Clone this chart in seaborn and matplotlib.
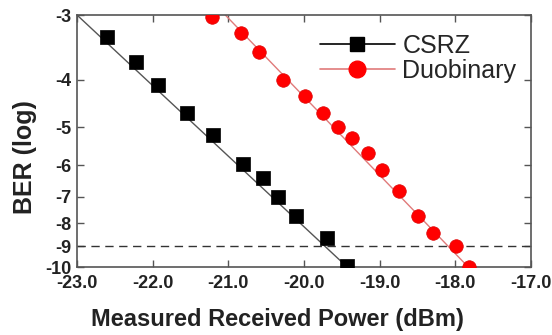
import math
import numpy as np
import pandas as pd
import matplotlib
matplotlib.use("Agg")
import matplotlib.pyplot as plt
from matplotlib.lines import Line2D
from matplotlib.ticker import FixedLocator, NullLocator
import seaborn as sns

# ---- data ----
csrz_power = [-22.60, -22.22, -21.93, -21.55, -21.20, -20.81, -20.54, -20.34, -20.11, -19.70, -19.43]
csrz_ber = [-3.30, -3.70, -4.10, -4.67, -5.18, -5.95, -6.37, -7.00, -7.70, -8.63, -9.95]

duo_power = [-21.22, -20.83, -20.59, -20.28, -19.99, -19.75, -19.55, -19.37, -19.15,
             -18.97, -18.74, -18.49, -18.30, -17.99, -17.82]
duo_ber = [-3.03, -3.25, -3.53, -4.00, -4.31, -4.68, -4.98, -5.25, -5.66,
           -6.13, -6.80, -7.70, -8.40, -9.00, -10.00]

# fitted lines (end points)
csrz_fit_power = [-23.0, -19.43]
csrz_fit_ber = [-3.0, -10.0]
duo_fit_power = [-21.04, -17.83]
duo_fit_ber = [-3.0, -10.0]

threshold_ber = -9
x_ticks = [-23.0, -22.0, -21.0, -20.0, -19.0, -18.0, -17.0]
y_ticks = [-3, -4, -5, -6, -7, -8, -9, -10]
series_names = ["CSRZ", "Duobinary"]

# ---- Q-factor based BER scale ----
_q = np.linspace(0.05, 12.0, 6000)
_logber = np.log10(np.array([0.5 * math.erfc(v / math.sqrt(2.0)) for v in _q]))
_mlogq = -np.log10(_q)  # decreasing in q


def fwd(v):
    v = np.asarray(v, dtype=float)
    return np.interp(v, _logber[::-1], _mlogq[::-1])


def inv(u):
    u = np.asarray(u, dtype=float)
    return np.interp(u, _mlogq[::-1], _logber[::-1])


sns.set_theme(style="white")
plt.rcParams["font.family"] = ["Liberation Sans", "DejaVu Sans"]
plt.rcParams["axes.unicode_minus"] = False

fig = plt.figure(figsize=(5.52, 3.35), dpi=100)
ax = fig.add_axes([77 / 552, 1 - 267 / 335, (531 - 77) / 552, (267 - 15) / 335])
ax.set_yscale("function", functions=(fwd, inv))

csrz_df = pd.DataFrame({"power": csrz_power, "ber": csrz_ber})
duo_df = pd.DataFrame({"power": duo_power, "ber": duo_ber})
csrz_fit = pd.DataFrame({"power": csrz_fit_power, "ber": csrz_fit_ber})
duo_fit = pd.DataFrame({"power": duo_fit_power, "ber": duo_fit_ber})

line_black = "#555555"
line_red = "#e07a7a"

sns.lineplot(data=csrz_fit, x="power", y="ber", ax=ax, color=line_black, lw=1.0,
             sort=False, estimator=None)
sns.lineplot(data=duo_fit, x="power", y="ber", ax=ax, color=line_red, lw=1.0,
             sort=False, estimator=None)
ax.axhline(threshold_ber, color="#333333", lw=1.0, ls=(0, (6, 4)))

sns.scatterplot(data=csrz_df, x="power", y="ber", ax=ax, marker="s", s=95,
                color="black", edgecolor="black", linewidth=0.5, zorder=4)
sns.scatterplot(data=duo_df, x="power", y="ber", ax=ax, marker="o", s=95,
                color="#ff0000", edgecolor="#dd0000", linewidth=0.5, zorder=4)

ax.set_xlim(-23, -17)
ax.set_ylim(-10, -3)
ax.xaxis.set_major_locator(FixedLocator(x_ticks))
ax.set_xticklabels([f"{t:.1f}" for t in x_ticks])
ax.yaxis.set_major_locator(FixedLocator(y_ticks))
ax.yaxis.set_minor_locator(NullLocator())
ax.xaxis.set_minor_locator(NullLocator())
ax.set_yticklabels([str(t) for t in y_ticks])

for lab in ax.get_xticklabels() + ax.get_yticklabels():
    lab.set_fontweight("bold")
    lab.set_fontsize(13)
    lab.set_color("#222222")

ax.tick_params(axis="both", direction="in", length=5, width=1.0, color="#555555",
               top=True, right=True, bottom=True, left=True)
ax.tick_params(axis="x", pad=6)
ax.tick_params(axis="y", pad=4)

for sp in ax.spines.values():
    sp.set_color("#555555")
    sp.set_linewidth(1.2)

ax.set_xlabel("Measured Received Power (dBm)", fontsize=17, fontweight="bold", color="#222222")
ax.set_ylabel("BER (log)", fontsize=18, fontweight="bold", color="#222222")
ax.xaxis.set_label_coords((277 - 77) / 454, -(308 - 267) / 252)
ax.yaxis.set_label_coords(-(77 - 37) / 454, (267 - 157) / 252)

handles = [
    Line2D([], [], color="black", lw=1.2, marker="s", markersize=10),
    Line2D([], [], color=line_red, lw=1.2, marker="o", markersize=12,
           markerfacecolor="#ff0000", markeredgecolor="#ff0000"),
]
ax.legend(handles, series_names, loc="upper left", bbox_to_anchor=(0.535, 0.926),
          frameon=False, fontsize=18, handlelength=3.0, handletextpad=0.3,
          borderpad=0, labelspacing=0.05, borderaxespad=0)

fig.savefig("out.png", dpi=100)
